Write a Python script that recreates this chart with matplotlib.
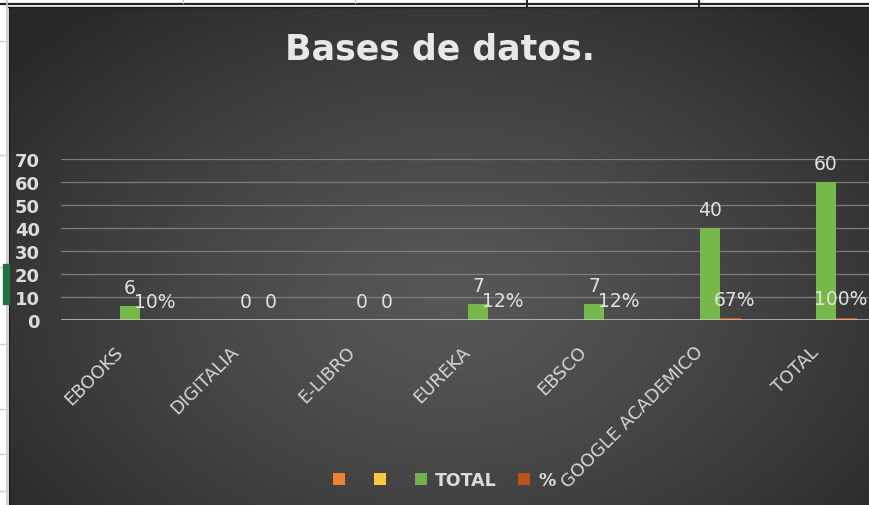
import numpy as np
import matplotlib
matplotlib.use("Agg")
import matplotlib.pyplot as plt
from matplotlib.patches import Rectangle, Patch

plt.rcParams['font.family'] = ['DejaVu Sans']

# ---------------- data ----------------
categories = ["EBOOKS", "DIGITALIA", "E-LIBRO", "EUREKA", "EBSCO",
              "GOOGLE ACADEMICO", "TOTAL"]
series_names = ["", "", "TOTAL", "%"]
serie1 = [0, 0, 0, 0, 0, 0, 0]
serie2 = [0, 0, 0, 0, 0, 0, 0]
total_vals = [6, 0, 0, 7, 7, 40, 60]
pct_vals = [0.10, 0, 0, 0.12, 0.12, 0.67, 1.00]
total_labels = ["6", "0", "0", "7", "7", "40", "60"]
pct_labels = ["10%", "0", "0", "12%", "12%", "67%", "100%"]
yticks = [0, 10, 20, 30, 40, 50, 60, 70]

colors = ["#ed7d31", "#ffc000", "#76b84a", "#c0581a"]
legend_colors = ["#ee8033", "#f7c943", "#72b04e", "#b9531d"]

W, H = 870, 506
fig = plt.figure(figsize=(W / 100, H / 100), dpi=100)

# ---------------- background (spreadsheet + chart area gradient) ----------------
bg = fig.add_axes([0, 0, 1, 1])
bg.set_xlim(0, W)
bg.set_ylim(H, 0)
bg.axis("off")
bg.add_patch(Rectangle((0, 0), W, H, color="white", zorder=0))
x0, y0, x1, y1 = 9, 9, W, H
gx = np.linspace(x0, x1, 400)
gy = np.linspace(y0, y1, 240)
GX, GY = np.meshgrid(gx, gy)
r = np.sqrt(((GX - 450) / 560) ** 2 + ((GY - 300) / 380) ** 2)
r = np.clip(r, 0, 1)
val = 0.34 - 0.18 * r ** 1.3
img = np.dstack([val, val, val])
bg.imshow(img, extent=[x0, x1, y1, y0], aspect="auto", zorder=1, interpolation="bilinear")
bg.plot([0, W], [4.5, 4.5], color="#222222", lw=1.6, zorder=2)
bg.plot([8, W], [8.3, 8.3], color="#1a1a1a", lw=1.0, zorder=2)
for xv in [527, 699]:
    bg.plot([xv, xv], [0, 8], color="#222222", lw=1.4, zorder=2)
for xv in [183, 355]:
    bg.plot([xv, xv], [0, 4], color="#bbbbbb", lw=0.8, zorder=2)
bg.plot([7.5, 7.5], [0, H], color="#c8c8c8", lw=1.2, zorder=2)
bg.plot([9, 9], [9, H], color="#1e1e1e", lw=1.0, zorder=2)
for yv in [42, 156, 268, 345, 410, 455, 492]:
    bg.plot([0, 6], [yv, yv], color="#cfcfcf", lw=1.0, zorder=2)
bg.add_patch(Rectangle((3, 265), 6, 40, color="#217346", zorder=3))

# ---------------- title ----------------
fig.text(440 / W, 1 - 49 / H, "Bases de datos.", ha="center", va="center",
         fontsize=25, fontweight="bold", color="#e8e8e8")

# ---------------- plot ----------------
left_px, right_px = 61.5, 873.5
bottom_px, top_px = 321, 160
ax = fig.add_axes([left_px / W, 1 - bottom_px / H, (right_px - left_px) / W,
                   (bottom_px - top_px) / H])
ax.set_facecolor("none")
for s in ax.spines.values():
    s.set_visible(False)

x = np.arange(len(categories))
w = 0.181
series = [serie1, serie2, total_vals, pct_vals]
offsets = [-1.5 * w, -0.5 * w, 0.5 * w, 1.5 * w]
for vals, off, c in zip(series, offsets, colors):
    ax.bar(x + off, vals, width=w, color=c, zorder=3)

ax.set_xlim(-0.5, len(categories) - 0.5)
ax.set_ylim(0, 70)
ax.set_yticks(yticks)
ax.yaxis.grid(True, color="#7c7c7c", lw=0.9, zorder=0)
ax.axhline(0, color="#c8c8c8", lw=1.8, zorder=4)
ax.tick_params(axis="y", length=0, pad=15.5, labelsize=13, labelcolor="#dcdcdc")
for t in ax.get_yticklabels():
    t.set_fontweight("bold")
ax.set_xticks(x - 0.05)
ax.set_xticklabels(categories, rotation=45, ha="right", va="top",
                   rotation_mode="anchor", fontsize=13, color="#d6d6d6")
ax.tick_params(axis="x", length=0, pad=16)

# data labels
labels = []
for i in range(len(categories)):
    labels.append(ax.annotate(total_labels[i], (x[i] + offsets[2], total_vals[i]),
                              xytext=(0, 13.5), textcoords="offset points", ha="center",
                              va="center", fontsize=13.5, color="#e2e2e2", zorder=5))
    labels.append(ax.annotate(pct_labels[i], (x[i] + offsets[3] + 0.03, pct_vals[i]),
                              xytext=(0, 13.5), textcoords="offset points", ha="center",
                              va="center", fontsize=13.5, color="#e2e2e2", zorder=5))

# ---------------- legend ----------------
handles = [Patch(facecolor=c, edgecolor="none") for c in legend_colors]
leg = fig.legend(handles, series_names, loc="center", ncol=4,
                 bbox_to_anchor=(444 / W, 1 - 481 / H), frameon=False,
                 handlelength=0.72, handleheight=0.72, handletextpad=0.45,
                 columnspacing=1.2, prop={"size": 12.5, "weight": "bold"},
                 labelcolor="#dcdcdc")

# keep data labels inside the chart area (as the spreadsheet does)
fig.canvas.draw()
renderer = fig.canvas.get_renderer()
for t in labels:
    bb = t.get_window_extent(renderer)
    limit = W - 3
    if bb.x1 > limit:
        dx_pt = (bb.x1 - limit) * 72 / fig.dpi
        xo, yo = t.xyann
        t.xyann = (xo - dx_pt, yo)

fig.savefig("out.png", dpi=100)
